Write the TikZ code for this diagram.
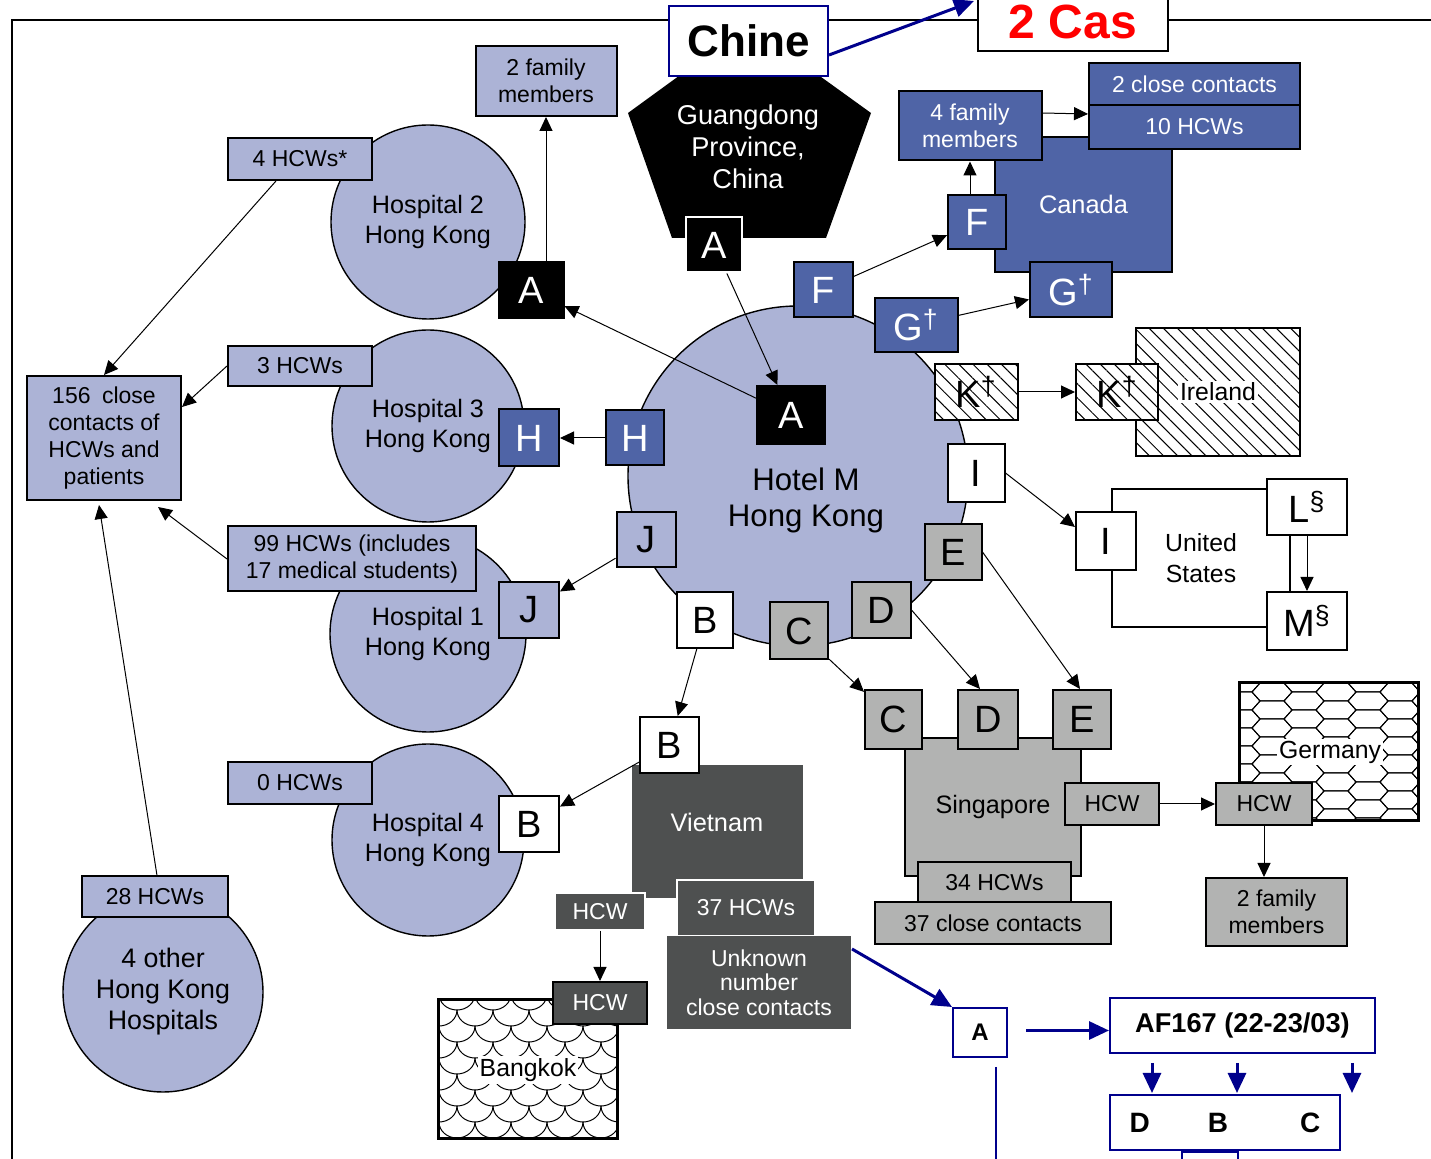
\documentclass[tikz,border=0pt]{standalone}
\usepackage{fontspec}
\setmainfont{Liberation Sans}
\usetikzlibrary{arrows.meta,patterns.meta,calc}

\definecolor{hkpale}{RGB}{172,179,214}
\definecolor{cablue}{RGB}{79,100,166}
\definecolor{sggray}{RGB}{178,179,178}
\definecolor{vndark}{RGB}{78,80,80}
\definecolor{afnavy}{RGB}{0,0,140}

\newcommand{\fsz}[2]{\fontsize{#1}{#2}\selectfont}

\tikzset{
  sz/.style 2 args={minimum width=#1*0.5pt, minimum height=#2*0.5pt},
  box/.style={draw=black, line width=1pt, inner sep=0pt, align=center, font=\fsz{11.5}{13.5}},
  ltr/.style={box, font=\fsz{19}{20}},
  hosp/.style={circle, draw=black, line width=0.7pt, fill=hkpale, inner sep=0pt, align=center, font=\fsz{12.6}{15}},
  hatch/.style={preaction={fill=white}, pattern={Lines[angle=-45,distance=5pt,line width=0.5pt]}},
  arr/.style={-{Triangle[length=7pt,width=6.5pt]}, line width=0.5pt},
  navyarr/.style={-{Triangle[length=10pt,width=9pt]}, draw=afnavy, line width=1.5pt},
  navybox/.style={draw=afnavy, line width=1pt, fill=white, inner sep=0pt, align=center, font=\bfseries\fsz{13.6}{16}},
}

\begin{document}
\begin{tikzpicture}[x=0.5pt,y=-0.5pt]
\useasboundingbox (0,0) rectangle (1431,1159);
\draw[line width=1pt] (1431,20) -- (12,20) -- (12,1165);

% Hong Kong circles
\node[hosp, minimum size=170pt] (hotel) at (798,476) {};
\node[font=\fsz{15.6}{18}, align=center] (hotellbl) at (806,500) {Hotel M\\Hong Kong};
\node[hosp, minimum size=97pt] (hosp2) at (428,222) {Hospital 2\\Hong Kong};
\node[hosp, minimum size=96pt] (hosp3) at (428,426) {Hospital 3\\Hong Kong};
\node[hosp, minimum size=98pt] (hosp1) at (428,634) {Hospital 1\\Hong Kong};
\node[hosp, minimum size=96pt] (hosp4) at (428,840) {Hospital 4\\Hong Kong};
\node[hosp, minimum size=100pt, font=\fsz{13.4}{15.5}] (hosp4o) at (163,992) {4 other\\Hong Kong\\Hospitals};

% Guangdong
\fill[black] (749,25) -- (871,113) -- (826,238) -- (672,238) -- (628,113) -- cycle;
\node[text=white, font=\fsz{13.6}{16}, align=center] (gdlbl) at (748,147) {Guangdong\\Province,\\China};
\node[ltr, sz={56}{55}, fill=black, draw=white, text=white] (agd) at (714,245) {A};
\node[navybox, sz={159}{70}, font=\bfseries\fsz{22}{24}] (chine) at (748.5,41) {Chine};
\node[box, sz={190}{58}, fill=white, text=red, font=\bfseries\fsz{24}{26}] (cas) at (1073,22) {2 Cas};
\coordinate (castip) at (974,1);

% Hong Kong boxes
\node[box, sz={141}{70}, fill=hkpale] (fam2hk) at (546,81) {2 family\\members};
\node[box, sz={144}{42}, fill=hkpale] (hcw4) at (300,159) {4 HCWs*};
\node[ltr, sz={65}{56}, fill=black, text=white] (ahk2) at (531,290) {A};
\node[box, sz={144}{40}, fill=hkpale] (hcw3) at (300,366) {3 HCWs};
\node[ltr, sz={60}{57}, fill=cablue, text=white] (hhk3) at (529,438) {H};
\node[box, sz={154}{124}, fill=hkpale] (cc156) at (104,438) {156\enspace close\\contacts of\\HCWs and\\patients};
\node[box, sz={248}{65}, fill=hkpale] (hcw99) at (352,559) {99 HCWs (includes\\17 medical students)};
\node[ltr, sz={60}{56}, fill=hkpale] (jhk1) at (529,610) {J};
\node[box, sz={144}{42}, fill=hkpale] (hcw0) at (300,783) {0 HCWs};
\node[ltr, sz={60}{56}, fill=white] (bhk4) at (529,824) {B};
\node[box, sz={146}{41}, fill=hkpale] (hcw28) at (155,897) {28 HCWs};

% Hotel M cases
\node[ltr, sz={68}{58}, fill=black, text=white] (ahotel) at (791,415) {A};
\node[ltr, sz={59}{55}, fill=cablue, text=white] (fhotel) at (823,290) {F};
\node[ltr, sz={83}{54}, fill=cablue, text=white] (ghotel) at (916,325) {G\textsuperscript{\textdagger}};
\node[ltr, sz={83}{56}, hatch] (khotel) at (976,392) {K\textsuperscript{\textdagger}};
\node[ltr, sz={57}{58}, fill=white] (ihotel) at (976,473) {I};
\node[ltr, sz={57}{56}, fill=sggray] (ehotel) at (953,552) {E};
\node[ltr, sz={59}{56}, fill=sggray] (dhotel) at (881,610) {D};
\node[ltr, sz={58}{57}, fill=sggray] (chotel) at (799,631) {C};
\node[ltr, sz={56}{56}, fill=white] (bhotel) at (705,620) {B};
\node[ltr, sz={59}{55}, fill=hkpale] (jhotel) at (646,540) {J};
\node[ltr, sz={58}{55}, fill=cablue, text=white] (hhotel) at (635,438) {H};

% Canada
\node[box, sz={177}{135}, fill=cablue, text=white, font=\fsz{12.7}{15}] (canada) at (1083.5,204.5) {Canada};
\node[box, sz={143}{69}, fill=cablue, text=white] (fam4ca) at (970,126) {4 family\\members};
\node[box, sz={211}{42}, fill=cablue, text=white] (cc2ca) at (1194.5,84) {2 close contacts};
\node[box, sz={211}{44}, fill=cablue, text=white] (hcw10) at (1194.5,127) {10 HCWs};
\node[ltr, sz={58}{54}, fill=cablue, text=white] (fca) at (977,222) {F};
\node[ltr, sz={82}{55}, fill=cablue, text=white] (gca) at (1071,290) {G\textsuperscript{\textdagger}};

% Ireland
\node[box, sz={164}{128}, hatch, label={[fill=white, inner sep=1pt, font=\fsz{12.4}{14}]center:Ireland}] (ireland) at (1218,392) {};
\node[ltr, sz={82}{56}, hatch] (kire) at (1117,392) {K\textsuperscript{\textdagger}};

% United States
\node[box, sz={178}{138}, fill=white, font=\fsz{12.4}{15.5}] (usa) at (1201,558) {United\\States};
\node[ltr, sz={60}{58}, fill=white] (ius) at (1106,541) {I};
\node[ltr, sz={80}{56}, fill=white] (lus) at (1307,507) {L\textsuperscript{\S}};
\node[ltr, sz={80}{58}, fill=white] (mus) at (1307,621) {M\textsuperscript{\S}};

% Singapore
\node[box, sz={176}{138}, fill=sggray, font=\fsz{12.6}{15}] (sg) at (993,807) {Singapore};
\node[ltr, sz={57}{59}, fill=sggray] (csg) at (893.5,719.5) {C};
\node[ltr, sz={60}{59}, fill=sggray] (dsg) at (988,719.5) {D};
\node[ltr, sz={58}{59}, fill=sggray] (esg) at (1082,719.5) {E};
\node[box, sz={94}{42}, fill=sggray] (hcwsg) at (1112,804) {HCW};
\node[box, sz={153}{41}, fill=sggray] (hcw34) at (994.5,882.5) {34 HCWs};
\node[box, sz={236}{42}, fill=sggray] (cc37) at (993,923) {37 close contacts};

% Germany
\node[box, sz={178}{137}, fill=white] (de) at (1329,751.5) {};
\begin{scope}
  \clip (de.north west) rectangle (de.south east);
  \foreach \m in {-1,...,7}{
    \foreach \n in {-1,...,16}{
      \pgfmathtruncatemacro{\pty}{mod(\m+\n+2,2)}
      \pgfmathsetmacro{\cx}{1240+32*\m}
      \pgfmathsetmacro{\cy}{683+9*\n}
      \ifnum\pty=0
        \draw[line width=0.5pt] (\cx-20,\cy) -- (\cx-12,\cy-9) -- (\cx+12,\cy-9) -- (\cx+20,\cy) -- (\cx+12,\cy+9) -- (\cx-12,\cy+9) -- cycle;
      \fi
    }
  }
\end{scope}
\draw[line width=0.8pt] (de.north west) rectangle (de.south east);
\node[fill=white, inner sep=1pt, font=\fsz{12.4}{14}] (delbl) at (1330,752) {Germany};
\node[box, sz={96}{42}, fill=sggray] (hcwde) at (1264,804) {HCW};
\node[box, sz={141}{68}, fill=sggray] (fam2de) at (1276.5,912) {2 family\\members};

% Vietnam and Bangkok
\node[box, sz={171}{133}, fill=vndark, draw=none] (vn) at (717.5,831.5) {};
\node[text=white, font=\fsz{12.7}{15}] (vnlbl) at (717,822) {Vietnam};
\node[ltr, sz={59}{56}, fill=white] (bvn) at (669.5,745) {B};
\node[box, sz={90}{37}, fill=vndark, draw=white, text=white] (hcwvn) at (600,911.5) {HCW};
\node[box, sz={138}{56}, fill=vndark, draw=white, text=white] (hcw37) at (746,908) {37 HCWs};
\node[box, sz={184}{93}, fill=vndark, draw=none, text=white, font=\fsz{11.5}{12.3}] (unk) at (759,982.5) {Unknown\\number\\close contacts};
\node[box, sz={178}{138}, fill=white] (bk) at (528,1069) {};
\begin{scope}
  \clip (bk.north west) rectangle (bk.south east);
  \foreach \r in {0,...,9}{
    \foreach \c in {-1,...,5}{
      \pgfmathsetmacro{\cx}{439+36*\c+18*mod(\r,2)}
      \pgfmathsetmacro{\cy}{994+16*\r}
      \draw[line width=0.5pt] (\cx,\cy) arc[start angle=180, end angle=360, x radius=9pt, y radius=8pt];
    }
  }
\end{scope}
\draw[line width=1pt] (bk.north west) rectangle (bk.south east);
\node[fill=white, inner sep=1pt, font=\fsz{12.4}{14}] (bklbl) at (528,1070) {Bangkok};
\node[box, sz={94}{42}, fill=vndark, text=white] (hcwbk) at (600,1003) {HCW};

% AF167
\node[navybox, sz={54}{49}, font=\bfseries\fsz{12}{14}] (aaf) at (980,1032.5) {A};
\node[navybox, sz={265}{55}] (af) at (1242.5,1025.5) {AF167 (22-23/03)};
\node[navybox, sz={230}{55}, font=\bfseries\fsz{14}{16}] (dbc) at (1225,1122.5) {D\hspace{29pt}B\hspace{36pt}C};
\node[navybox, sz={56}{28}] (dbcnext) at (1210,1166) {};

% spread
\draw[arr] (ahotel) -- (ahk2);
\draw[arr] (agd) -- (ahotel);
\draw[arr] (fam2hk.south |- ahk2.north) -- (fam2hk.south);
\draw[arr] ([xshift=-12pt]hcw4.south) -- (cc156.north);
\draw[arr] (hcw3.west) -- ([yshift=-16pt]cc156.north east);
\draw[arr] (hhotel) -- (hhk3);
\draw[arr] (jhotel) -- (jhk1);
\draw[arr] (hcw99.west) -- ([xshift=27pt,yshift=-3pt]cc156.south);
\draw[arr] ([xshift=1pt]hcw28.north) -- ([xshift=-2.5pt,yshift=-2pt]cc156.south);
\draw[arr] (bhotel) -- (bvn);
\draw[arr] (bvn) -- (bhk4);
\draw[arr] (chotel) -- (csg);
\draw[arr] (dhotel.east) -- ([xshift=-4pt]dsg.north);
\draw[arr] (ehotel.east) -- ([xshift=-1pt]esg.north);
\draw[arr] (ihotel.east) -- ([yshift=7pt]ius.west);
\draw[arr] (khotel) -- (kire);
\draw[arr] (ghotel) -- (gca);
\draw[arr] (fhotel) -- (fca);
\draw[arr] (fam4ca.south |- fca.north) -- (fam4ca.south);
\draw[arr] ([yshift=6.5pt]fam4ca.east) -- ([yshift=6.5pt]hcw10.west);
\draw[arr] (hcwsg) -- (hcwde);
\draw[arr] (hcwde.south) -- (hcwde.south |- fam2de.north);
\draw[arr] (hcwvn) -- (hcwbk);
\draw[arr] (lus) -- (mus);

\draw[navyarr] ([yshift=-7pt]chine.east) -- (castip);
\draw[navyarr] ([yshift=-7pt]unk.north east) -- (aaf.north west);
\draw[navyarr] ([xshift=9pt,yshift=1pt]aaf.east) -- ([yshift=1pt]aaf.east -| af.west);
\foreach \x in {43,128,243}
  \draw[navyarr] ($(af.south west)+(\x,9)$) -- ($(af.south west |- dbc.north)+(\x,-1)$);
\draw[afnavy, line width=1pt] ($(aaf.south)+(16,9)$) -- ($(aaf.south)+(16,110)$);
\end{tikzpicture}
\end{document}
